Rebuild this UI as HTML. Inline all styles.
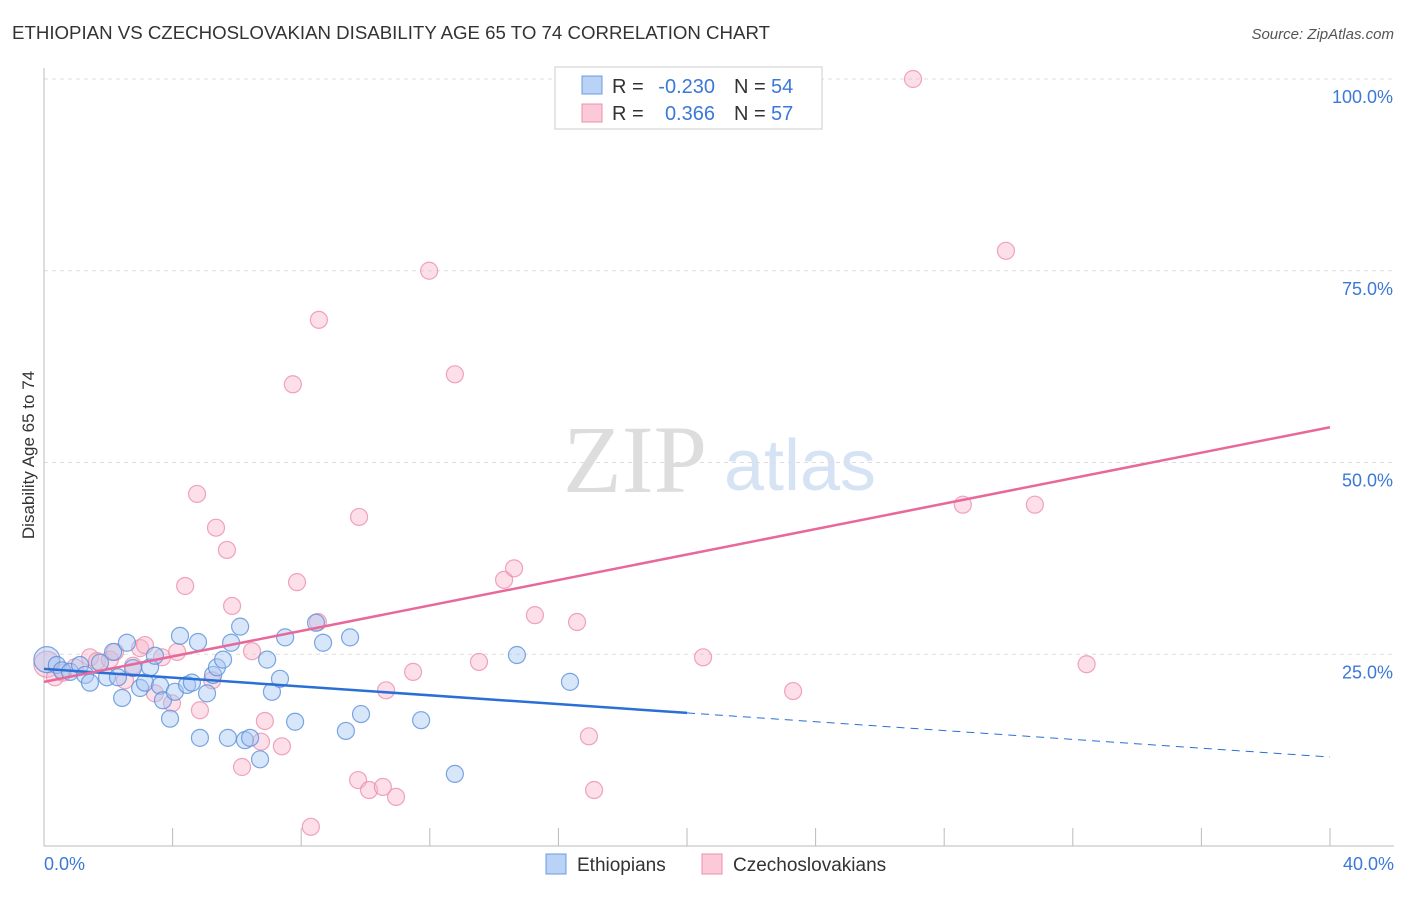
<!DOCTYPE html>
<html><head><meta charset="utf-8"><style>
body{margin:0;background:#fff;font-family:"Liberation Sans",sans-serif;}
svg text{font-family:"Liberation Sans",sans-serif;}
</style></head><body>
<svg id="chart" width="1406" height="892" xmlns="http://www.w3.org/2000/svg">
<text x="12" y="39" font-size="18" fill="#333" textLength="758" lengthAdjust="spacingAndGlyphs">ETHIOPIAN VS CZECHOSLOVAKIAN DISABILITY AGE 65 TO 74 CORRELATION CHART</text>
<text x="1394" y="39" font-size="15" fill="#555" text-anchor="end" font-style="italic">Source: ZipAtlas.com</text>
<text x="34" y="455" font-size="17" fill="#333" text-anchor="middle" transform="rotate(-90 34 455)">Disability Age 65 to 74</text>
<text x="635" y="492" font-size="96" fill="#ddd" text-anchor="middle" style="font-family:'Liberation Serif',serif">ZIP</text>
<text x="800" y="490" font-size="72" fill="#d5e3f5" text-anchor="middle">atlas</text>
<g id="grid"></g><g id="axes"></g><g id="pts"></g><g id="lines"></g>
<g>
<rect x="555" y="67" width="267" height="62" fill="#fff" stroke="#ccc"/>
<rect x="582" y="76" width="20" height="18" fill="#b8d3f5" stroke="#6a9be0"/>
<rect x="582" y="104" width="20" height="18" fill="#fcc9d8" stroke="#ec8fab"/>
<text x="612" y="93" font-size="20" fill="#333">R =</text>
<text x="715" y="93" font-size="20" fill="#3b78d8" text-anchor="end">-0.230</text>
<text x="734" y="93" font-size="20" fill="#333">N =</text>
<text x="771" y="93" font-size="20" fill="#3b78d8">54</text>
<text x="612" y="120" font-size="20" fill="#333">R =</text>
<text x="715" y="120" font-size="20" fill="#3b78d8" text-anchor="end">0.366</text>
<text x="734" y="120" font-size="20" fill="#333">N =</text>
<text x="771" y="120" font-size="20" fill="#3b78d8">57</text>
</g>
<g>
<rect x="546" y="854" width="20" height="20" fill="#b8d3f5" stroke="#6a9be0"/>
<text x="577" y="871" font-size="19" fill="#333">Ethiopians</text>
<rect x="702" y="854" width="20" height="20" fill="#fcc9d8" stroke="#ec8fab"/>
<text x="733" y="871" font-size="19" fill="#333">Czechoslovakians</text>
</g>
</svg>
<script>
const xTicks=[0,4,8,12,16,20,24,28,32,36,40];
const yTicks=[25,50,75,100];
const blueX=[0.09,0.4,0.56,0.81,1.12,1.28,1.43,1.74,1.96,2.15,2.30,2.43,2.58,2.77,2.99,3.14,3.30,3.45,3.61,3.70,3.92,4.07,4.23,4.45,4.60,4.79,4.85,5.07,5.26,5.38,5.57,5.72,5.82,6.10,6.25,6.41,6.72,6.94,7.09,7.34,7.50,7.81,8.46,8.68,9.39,9.52,9.86,11.73,12.78,14.71,16.36];
const blueY=[24.3,23.6,22.9,22.7,23.6,22.3,21.3,23.9,22.0,25.3,22.0,19.3,26.5,23.2,20.6,21.3,23.3,24.8,20.9,19.0,16.6,20.1,27.4,21.0,21.3,26.6,14.1,19.9,22.3,23.3,24.3,14.1,26.5,28.6,13.8,14.1,11.3,24.3,20.1,21.8,27.2,16.2,29.1,26.5,15.0,27.2,17.2,16.4,9.4,24.9,21.4];
const pinkX=[0.09,0.34,0.59,0.96,1.43,1.65,2.05,2.21,2.52,2.77,2.99,3.14,3.45,3.67,3.98,4.14,4.39,4.76,4.85,5.23,5.35,5.69,5.85,6.16,6.47,6.75,6.87,7.40,7.74,7.87,8.30,8.52,8.55,9.77,9.80,10.11,10.54,10.64,10.95,11.48,11.98,12.78,13.53,14.31,14.62,15.27,16.58,16.95,17.11,20.50,23.30,27.03,28.58,29.92,30.82,32.43];
const pinkY=[23.7,22.0,22.6,23.3,24.6,24.1,24.3,25.3,21.6,23.5,25.8,26.2,19.9,24.6,18.6,25.3,33.9,45.9,17.7,21.6,41.5,38.6,31.3,10.3,25.4,13.6,16.3,13.0,60.2,34.4,2.5,29.2,68.6,8.6,42.9,7.3,7.7,20.3,6.4,22.7,75.0,61.5,24.0,34.7,36.2,30.1,29.2,14.3,7.3,24.6,20.2,100.0,44.5,77.6,44.5,23.7];
const blueTrend=[23.1,11.6];
const pinkTrend=[21.4,54.6];
const X=v=>44+v*(1286/40), Y=v=>846-v*7.67;
const NS="http://www.w3.org/2000/svg";
function mk(parent,tag,attrs){const e=document.createElementNS(NS,tag);for(const k in attrs)e.setAttribute(k,attrs[k]);document.getElementById(parent).appendChild(e);return e;}
yTicks.forEach(t=>{
 const l=mk('grid','line',{x1:44,x2:1394,y1:Y(t),y2:Y(t),stroke:'#ddd','stroke-dasharray':'4,4'});
 
 
 const tx=mk('grid','text',{x:1393,y:Y(t)+24,'font-size':18,fill:'#3b78d8','text-anchor':'end'});
 tx.textContent=t.toFixed(1)+'%';
 
 
});
let a=mk('axes','line',{x1:44,x2:44,y1:68,y2:846,stroke:'#bbb'});


a=mk('axes','line',{x1:44,x2:1394,y1:846,y2:846,stroke:'#bbb'});


xTicks.slice(1).forEach(t=>{
 const l=mk('axes','line',{x1:X(t),x2:X(t),y1:828,y2:846,stroke:'#bbb'});
 
 
});
[[0,'start',44],[40,'end',1394]].forEach(([t,anc,px])=>{
 const tx=mk('axes','text',{x:px,y:870,'font-size':18,fill:'#3b78d8','text-anchor':anc});
 tx.textContent=t.toFixed(1)+'%';
 
 
});
function pts(xs,ys,fill,stroke,name){
 xs.forEach((x,i)=>{
  const c=mk('pts','circle',{cx:X(x),cy:Y(ys[i]),r:i===0?13:8.5,fill:fill,'fill-opacity':0.45,stroke:stroke,'stroke-width':1.2,'stroke-opacity':0.8});
  
  
 });
}
pts(pinkX,pinkY,'#f9b9cc','#ec8fab','czechoslovakian-point');
pts(blueX,blueY,'#a9c8f2','#5b90dc','ethiopian-point');
const by=x=>blueTrend[0]+(blueTrend[1]-blueTrend[0])*x/40;
let l=mk('lines','line',{x1:X(0),y1:Y(by(0)),x2:X(20),y2:Y(by(20)),stroke:'#2a6fd6','stroke-width':2.5});


l=mk('lines','line',{x1:X(20),y1:Y(by(20)),x2:X(40),y2:Y(by(40)),stroke:'#2a6fd6','stroke-width':1,'stroke-dasharray':'8,6'});


l=mk('lines','line',{x1:X(0),y1:Y(pinkTrend[0]),x2:X(40),y2:Y(pinkTrend[1]),stroke:'#e8689a','stroke-width':2.5});


</script>
</body></html>
